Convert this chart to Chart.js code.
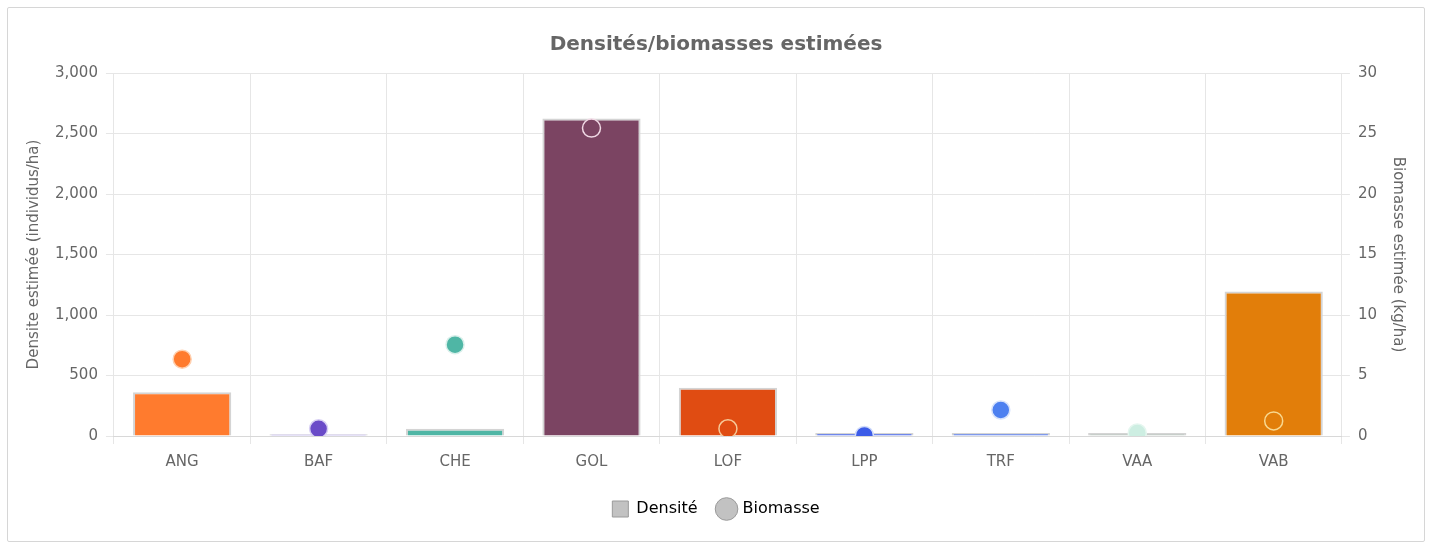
<!DOCTYPE html>
<html>
<head>
<meta charset="utf-8">
<script src="https://cdn.jsdelivr.net/npm/chart.js@4"></script>
<style>
  body { margin: 0; background: #fff; }
  #box {
    position: absolute; left: 7px; top: 7px; width: 1416px; height: 533px;
    border: 1px solid #d6d6d6; border-radius: 2px; background: #fff;
  }
  #chart { display: block; }
</style>
</head>
<body>
<div id="box"><canvas id="chart" width="1416" height="533"></canvas></div>
<script>
const species = ["ANG", "BAF", "CHE", "GOL", "LOF", "LPP", "TRF", "VAA", "VAB"];
const densite = [362, 15, 60, 2625, 398, 25, 25, 25, 1195];
const biomasse = [6.35, 0.6, 7.55, 25.45, 0.6, 0.05, 2.15, 0.25, 1.25];
const barColors = ["#ff7b2e", "#9d8be4", "#4fb6a5", "#7b4462", "#e04c12", "#4565e8", "#5a7ce8", "#b8c2bc", "#e27e0a"];
const pointColors = ["#ff7b2e", "#6a4bc8", "#4fb6a5", "#7b4462", "#e04c12", "#3c5ce8", "#4d80f0", "#cdeee2", "#e27e0a"];
const pointBorders = ["#ffd0b0", "#d8d0f4", "#d8efea", "#f0d8e4", "#f6c898", "#d0dbfa", "#d6e2fc", "#e4f6ef", "#f8d890"];

const font = "'DejaVu Sans', 'Open Sans', sans-serif";

new Chart(document.getElementById("chart"), {
  data: {
    labels: species,
    datasets: [
      {
        type: "bar",
        label: "Densité",
        data: densite,
        backgroundColor: barColors,
        borderColor: "#d4d4d4",
        borderWidth: 2,
        yAxisID: "y",
        order: 2,
      },
      {
        type: "line",
        label: "Biomasse",
        data: biomasse,
        showLine: false,
        pointRadius: 9,
        pointBorderWidth: 1.5,
        pointBackgroundColor: pointColors,
        pointBorderColor: pointBorders,
        yAxisID: "y1",
        order: 1,
      },
    ],
  },
  options: {
    responsive: false,
    animation: false,
    layout: { padding: { left: 13, right: 13, top: 12, bottom: 14 } },
    plugins: {
      title: {
        display: true,
        text: "Densités/biomasses estimées",
        color: "#666",
        font: { family: font, size: 20, weight: "bold" },
        padding: { top: 13, bottom: 16 },
      },
      legend: {
        position: "bottom",
        labels: {
          usePointStyle: true,
          color: "#333",
          font: { family: font, size: 16 },
          padding: 21,
          generateLabels: () => [
            { text: "Densité", fillStyle: "#c2c2c2", strokeStyle: "#9a9a9a", lineWidth: 1, pointStyle: "rect", datasetIndex: 0 },
            { text: "Biomasse", fillStyle: "#c2c2c2", strokeStyle: "#9a9a9a", lineWidth: 1, pointStyle: "circle", datasetIndex: 1 },
          ],
        },
      },
      tooltip: { enabled: false },
    },
    scales: {
      x: {
        grid: { color: "#e6e6e6" },
        border: { color: "#d8d8d8" },
        ticks: { color: "#666", font: { family: font, size: 15 }, padding: 9 },
      },
      y: {
        position: "left",
        min: 0,
        max: 3000,
        ticks: { stepSize: 500, color: "#666", font: { family: font, size: 15 }, padding: 8 },
        grid: { color: "#e6e6e6" },
        border: { display: false },
        title: { display: true, text: "Densite estimée (individus/ha)", color: "#666", font: { family: font, size: 15 } },
      },
      y1: {
        position: "right",
        min: 0,
        max: 30,
        ticks: { stepSize: 5, color: "#666", font: { family: font, size: 15 }, padding: 8 },
        grid: { drawOnChartArea: false, color: "#e6e6e6" },
        border: { display: false },
        title: { display: true, text: "Biomasse estimée (kg/ha)", color: "#666", font: { family: font, size: 15 } },
      },
    },
  },
});
</script>
</body>
</html>
